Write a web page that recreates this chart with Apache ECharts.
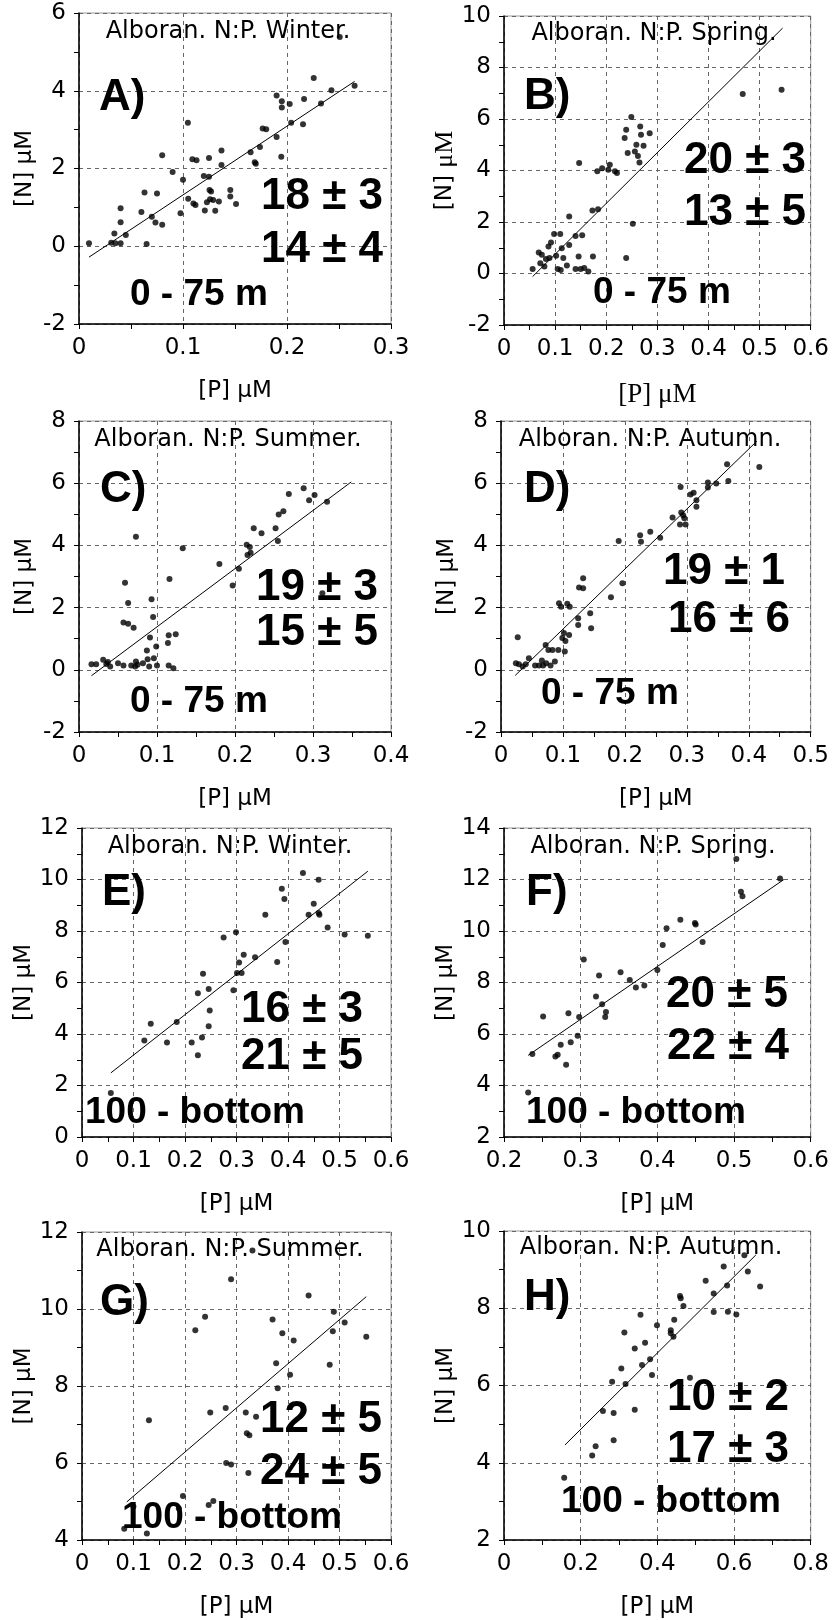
<!DOCTYPE html>
<html>
<head>
<meta charset="utf-8">
<script src="https://cdn.jsdelivr.net/npm/echarts@6/dist/echarts.min.js"></script>
<style>
html,body{margin:0;padding:0;background:#fff}
#chart{width:832px;height:1620px}
</style>
</head>
<body>
<div id="chart"></div>
<script>
// A) Winter 0-75 m
var pA=[[0.0096,0.08],[0.031,0.09],[0.035,0.08],[0.040,0.08],[0.034,0.33],[0.040,0.98],[0.040,0.62],[0.045,0.29],
  [0.060,0.88],[0.063,1.38],[0.065,0.06],[0.070,0.76],[0.0735,0.61],[0.075,1.36],[0.080,0.55],[0.080,2.34],
  [0.090,1.91],[0.0976,0.85],[0.100,1.71],[0.1047,3.18],[0.105,1.22],[0.109,2.24],[0.113,2.21],[0.110,1.10],
  [0.112,1.06],[0.120,1.81],[0.121,0.92],[0.125,2.27],[0.125,1.79],[0.1255,1.45],[0.127,1.41],[0.123,1.13],
  [0.126,1.21],[0.129,1.19],[0.131,0.91],[0.1345,1.15],[0.137,2.46],[0.137,2.09],[0.1455,1.45],[0.1455,1.28],
  [0.151,1.09],[0.165,2.42],[0.169,2.16],[0.170,2.12],[0.174,2.55],[0.1766,3.03],[0.180,3.01],[0.190,2.81],
  [0.1945,2.30],[0.190,3.88],[0.195,3.73],[0.195,3.57],[0.2026,3.66],[0.204,3.18],[0.2154,3.14],[0.2164,3.79],
  [0.2257,4.33],[0.2327,3.67],[0.2427,4.01],[0.265,4.13],[0.2507,5.38]];
var fitA=[[0.0096,-0.28],[0.265,4.24]];

// B) Spring 0-75 m
var pB=[[0.056,0.17],[0.068,0.82],[0.074,0.73],[0.071,0.40],[0.079,0.27],[0.082,0.56],[0.089,0.60],[0.087,1.05],
  [0.092,1.20],[0.098,1.53],[0.102,0.69],[0.105,0.17],[0.110,1.53],[0.113,0.98],[0.111,0.14],[0.116,0.60],
  [0.123,0.31],[0.1275,2.21],[0.1275,1.11],[0.140,1.46],[0.147,4.29],[0.146,0.66],[0.140,0.17],[0.150,0.17],
  [0.153,1.49],[0.157,0.21],[0.165,0.08],[0.173,2.45],[0.174,0.66],[0.184,2.50],[0.1825,3.97],[0.192,4.09],
  [0.204,4.03],[0.207,4.22],[0.217,3.97],[0.221,3.90],[0.239,0.60],[0.236,5.26],[0.239,5.58],[0.242,4.68],
  [0.249,6.08],[0.252,1.93],[0.256,4.74],[0.259,5.00],[0.262,4.56],[0.2665,5.71],[0.268,5.39],[0.265,4.31],
  [0.273,4.96],[0.285,5.45],[0.467,6.97],[0.543,7.14]];
var fitB=[[0.056,-0.12],[0.545,9.53]];

// C) Summer 0-75 m
var pC=[[0.016,0.18],[0.022,0.18],[0.031,0.32],[0.035,0.19],[0.040,0.11],[0.037,0.25],[0.050,0.21],[0.057,0.14],
  [0.059,2.80],[0.063,2.15],[0.057,1.52],[0.063,1.48],[0.070,1.35],[0.067,0.14],[0.073,0.27],[0.073,4.28],
  [0.072,0.11],[0.075,0.16],[0.082,0.21],[0.087,0.62],[0.088,0.34],[0.090,0.11],[0.091,1.04],[0.093,2.27],
  [0.095,1.70],[0.096,0.37],[0.099,0.75],[0.100,0.14],[0.114,0.86],[0.115,1.11],[0.116,2.92],[0.115,0.14],
  [0.121,0.05],[0.124,1.14],[0.133,3.91],[0.180,3.40],[0.197,2.71],[0.205,3.25],[0.215,4.02],[0.219,3.95],
  [0.216,3.69],[0.220,3.76],[0.224,4.55],[0.234,4.39],[0.252,4.55],[0.255,4.14],[0.256,4.99],[0.262,5.10],
  [0.269,5.65],[0.288,5.84],[0.295,5.45],[0.302,5.62],[0.318,5.40],[0.312,2.46]];
var fitC=[[0.016,-0.19],[0.349,6.04]];

// D) Autumn 0-75 m
var pD=[[0.027,1.05],[0.024,0.21],[0.029,0.18],[0.035,0.11],[0.040,0.18],[0.045,0.37],[0.055,0.14],[0.0615,0.14],
  [0.066,0.30],[0.068,0.14],[0.072,0.80],[0.073,0.21],[0.0765,0.64],[0.080,0.14],[0.083,0.64],[0.087,0.27],
  [0.0925,0.64],[0.0936,2.14],[0.097,2.03],[0.099,1.02],[0.1016,1.18],[0.103,0.59],[0.104,0.93],[0.107,2.12],
  [0.110,1.12],[0.111,2.03],[0.1246,1.44],[0.1246,1.66],[0.126,2.65],[0.1326,2.62],[0.1326,2.94],[0.144,1.82],
  [0.1455,1.34],[0.1775,2.33],[0.196,2.78],[0.190,4.14],[0.2246,4.33],[0.226,4.12],[0.241,4.44],[0.257,4.25],
  [0.277,4.90],[0.290,5.88],[0.291,5.06],[0.294,4.97],[0.289,4.67],[0.296,4.87],[0.298,4.67],[0.306,5.64],
  [0.311,5.69],[0.3155,5.45],[0.3155,5.24],[0.334,6.02],[0.334,5.86],[0.3475,5.99],[0.365,6.61],[0.367,6.07],
  [0.417,6.52]];
var fitD=[[0.023,-0.18],[0.413,7.35]];

// E) Winter 100-bottom
var pE=[[0.056,1.71],[0.121,3.75],[0.1335,4.40],[0.165,3.67],[0.184,4.47],[0.213,3.67],[0.225,5.58],[0.225,3.17],
  [0.233,3.86],[0.235,6.34],[0.246,5.75],[0.246,4.30],[0.248,4.91],[0.275,7.75],[0.294,5.70],[0.299,7.95],
  [0.301,6.37],[0.305,6.78],[0.310,6.37],[0.314,7.08],[0.336,6.98],[0.356,8.63],[0.379,6.80],[0.388,9.64],
  [0.393,9.24],[0.395,7.57],[0.429,10.25],[0.440,8.63],[0.450,9.06],[0.4595,9.99],[0.4595,8.70],[0.461,8.63],
  [0.477,8.14],[0.510,7.86],[0.555,7.82]];
var fitE=[[0.056,2.49],[0.555,10.32]];

// F) Spring 100-bottom
var pF=[[0.2315,3.73],[0.237,5.22],[0.251,6.68],[0.267,5.13],[0.270,5.19],[0.274,5.58],[0.281,4.81],[0.284,6.81],
  [0.287,5.68],[0.296,5.93],[0.298,6.66],[0.304,8.89],[0.320,7.46],[0.324,8.27],[0.328,7.16],[0.332,6.66],
  [0.333,6.85],[0.352,8.40],[0.364,8.10],[0.372,7.81],[0.383,7.88],[0.400,8.49],[0.407,9.46],[0.412,10.11],
  [0.430,10.44],[0.449,10.31],[0.450,10.25],[0.459,9.57],[0.503,12.80],[0.509,11.52],[0.511,11.35],[0.560,12.04]];
var fitF=[[0.2315,5.17],[0.565,12.0]];

// G) Summer 100-bottom
var pG=[[0.082,4.29],[0.0998,4.87],[0.126,4.17],[0.130,7.11],[0.196,5.14],[0.188,4.82],[0.220,9.45],[0.239,9.80],
  [0.249,7.31],[0.246,4.91],[0.255,5.01],[0.279,7.43],[0.280,6.00],[0.2895,5.96],[0.2895,10.77],[0.318,7.31],
  [0.320,6.77],[0.325,6.72],[0.323,5.74],[0.338,7.20],[0.331,11.52],[0.370,9.73],[0.377,8.59],[0.380,7.94],
  [0.389,9.37],[0.404,8.29],[0.411,9.18],[0.440,10.35],[0.481,8.55],[0.487,9.42],[0.489,9.93],[0.510,9.65],
  [0.552,9.28]];
var fitG=[[0.087,4.99],[0.552,10.32]];

// H) Autumn 100-bottom
var pH=[[0.157,3.61],[0.230,4.19],[0.239,4.43],[0.258,5.34],[0.286,5.29],[0.286,4.58],[0.282,6.10],[0.306,6.44],
  [0.314,7.37],[0.317,6.04],[0.341,6.96],[0.341,5.37],[0.356,7.83],[0.360,6.53],[0.368,7.11],[0.381,6.68],
  [0.386,6.27],[0.399,7.56],[0.435,7.43],[0.435,7.35],[0.442,7.26],[0.444,7.70],[0.459,8.32],[0.461,8.26],
  [0.468,8.06],[0.485,6.20],[0.526,8.71],[0.547,8.38],[0.547,7.90],[0.573,9.08],[0.582,8.59],[0.584,7.91],
  [0.606,7.84],[0.627,9.37],[0.636,8.95],[0.668,8.56]];
var fitH=[[0.159,4.46],[0.657,9.38]];

var titles=["Alboran. N:P. Winter.","Alboran. N:P. Spring.","Alboran. N:P. Summer.","Alboran. N:P. Autumn.",
  "Alboran. N:P. Winter.","Alboran. N:P. Spring.","Alboran. N:P. Summer.","Alboran. N:P. Autumn."];
var letters=["A)","B)","C)","D)","E)","F)","G)","H)"];
var ratio1=["18 ± 3","20 ± 3","19 ± 3","19 ± 1","16 ± 3","20 ± 5","12 ± 5","10 ± 2"];
var ratio2=["14 ± 4","13 ± 5","15 ± 5","16 ± 6","21 ± 5","22 ± 4","24 ± 5","17 ± 3"];
var depths=["0 - 75 m","0 - 75 m","0 - 75 m","0 - 75 m","100 - bottom","100 - bottom","100 - bottom","100 - bottom"];
// axis ranges [min, max, interval]
var xRanges=[[0,0.3,0.1],[0,0.6,0.1],[0,0.4,0.1],[0,0.5,0.1],[0,0.6,0.1],[0.2,0.6,0.1],[0,0.6,0.1],[0,0.8,0.2]];
var yRanges=[[-2,6,2],[-2,10,2],[-2,8,2],[-2,8,2],[0,12,2],[2,14,2],[4,12,2],[2,10,2]];
var points=[pA,pB,pC,pD,pE,pF,pG,pH];
var fits=[fitA,fitB,fitC,fitD,fitE,fitF,fitG,fitH];

// layout: grid boxes and text anchors (pixels)
var grids=[[79,13,312,311],[504,16,309,309],[79,421,312,311],[501,421,312,311],
           [82,828,309,309],[504,828,309,309],[82,1232,309,308],[504,1231,309,309]];
var txtPos=[
  {t:[228,32],l:[99,98],r1:[383,197],r2:[383,250],d:[130,295]},
  {t:[654,34],l:[524,97],r1:[806,161],r2:[806,213],d:[593,293]},
  {t:[228,440],l:[100,490],r1:[378,588],r2:[378,633],d:[130,702]},
  {t:[650,440],l:[524,490],r1:[785,572],r2:[790,620],d:[541,694]},
  {t:[230,847],l:[102,893],r1:[363,1010],r2:[363,1057],d:[85,1113]},
  {t:[653,847],l:[526,893],r1:[788,995],r2:[789,1047],d:[526,1113]},
  {t:[230,1250],l:[100,1303],r1:[382,1420],r2:[382,1472],d:[122,1518]},
  {t:[651,1248],l:[524,1298],r1:[789,1398],r2:[789,1450],d:[561,1502]}
];

var SANS="DejaVu Sans";
var BOLD="Liberation Sans";
var chart=echarts.init(document.getElementById("chart"));

var option={
  animation:false,
  backgroundColor:"#fff",
  grid:[],xAxis:[],yAxis:[],series:[],graphic:[]
};

function axisCommon(r){
  return {
    type:"value",
    min:r[0],max:r[1],interval:r[2],
    axisLine:{show:true,onZero:false,lineStyle:{color:"#000",width:1.5}},
    axisTick:{show:true,length:5,lineStyle:{color:"#000",width:1}},
    minorTick:{show:true,splitNumber:2,length:5,lineStyle:{color:"#000",width:1}},
    splitLine:{show:true,lineStyle:{color:"#666",width:1,type:[4,4]}},
    axisLabel:{color:"#000",fontSize:23,fontFamily:SANS,margin:13},
    nameLocation:"middle",
    nameTextStyle:{color:"#000",fontSize:23,fontFamily:SANS}
  };
}

for(var i=0;i<8;i++){
  var g=grids[i];
  option.grid.push({left:g[0],top:g[1],width:g[2],height:g[3],show:true,borderColor:"#999",borderWidth:1,backgroundColor:"transparent"});

  var xa=axisCommon(xRanges[i]);
  xa.gridIndex=i;
  xa.name="[P] μM";
  xa.nameGap=56;
  if(i===1){ xa.nameTextStyle={color:"#000",fontSize:27,fontFamily:"Liberation Serif"}; }
  option.xAxis.push(xa);

  var ya=axisCommon(yRanges[i]);
  ya.gridIndex=i;
  ya.name="[N] μM";
  ya.nameGap=42;
  if(i===1){
    ya.name="{s|[N] }{t|μM}";
    ya.nameTextStyle={color:"#000",rich:{s:{fontSize:23,fontFamily:SANS},t:{fontSize:26,fontFamily:"Liberation Serif"}}};
  }
  option.yAxis.push(ya);

  option.series.push({
    type:"scatter",xAxisIndex:i,yAxisIndex:i,
    symbolSize:6,itemStyle:{color:"#000"},silent:true,
    data:points[i]
  });
  option.series.push({
    type:"line",xAxisIndex:i,yAxisIndex:i,
    symbol:"none",lineStyle:{color:"#000",width:1},silent:true,
    data:fits[i]
  });

  var p=txtPos[i];
  option.graphic.push(
    {type:"text",x:p.t[0],y:p.t[1],z:100,style:{text:titles[i],font:"24px "+SANS,fill:"#000",textAlign:"center",textVerticalAlign:"middle"}},
    {type:"text",x:p.l[0],y:p.l[1],z:100,style:{text:letters[i],font:"bold 44px "+BOLD,fill:"#000",textAlign:"left",textVerticalAlign:"middle"}},
    {type:"text",x:p.r1[0],y:p.r1[1],z:100,style:{text:ratio1[i],font:"bold 44px "+BOLD,fill:"#000",textAlign:"right",textVerticalAlign:"middle"}},
    {type:"text",x:p.r2[0],y:p.r2[1],z:100,style:{text:ratio2[i],font:"bold 44px "+BOLD,fill:"#000",textAlign:"right",textVerticalAlign:"middle"}},
    {type:"text",x:p.d[0],y:p.d[1],z:100,style:{text:depths[i],font:"bold 37px "+BOLD,fill:"#000",textAlign:"left",textVerticalAlign:"middle"}}
  );
}

chart.setOption(option);
</script>
</body>
</html>
